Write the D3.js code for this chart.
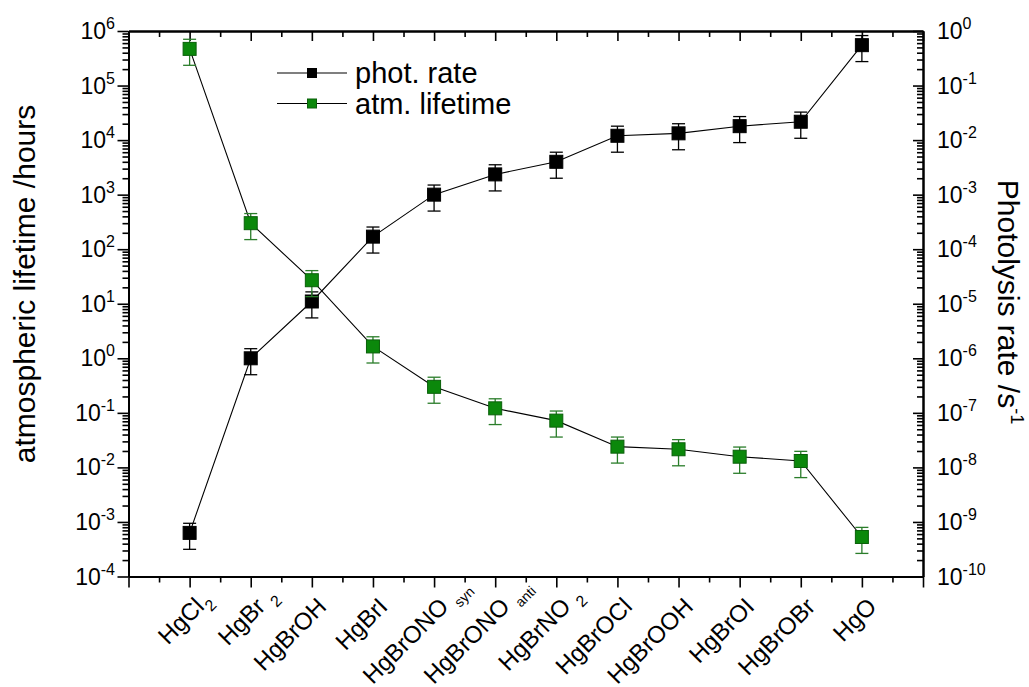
<!DOCTYPE html>
<html>
<head>
<meta charset="utf-8">
<script src="https://cdn.jsdelivr.net/npm/d3@7"></script>
<style>
  html, body { margin: 0; padding: 0; background: #fff; }
  svg { display: block; font-family: "Liberation Sans", Arial, Helvetica, sans-serif; }
</style>
</head>
<body>
<svg id="chart" width="1029" height="687"></svg>
<script>
// Mercury species along the x axis (main formula + subscript part)
const labelMain = ["HgCl", "HgBr", "HgBrOH", "HgBrI", "HgBrONO", "HgBrONO", "HgBrNO", "HgBrOCl", "HgBrOOH", "HgBrOI", "HgBrOBr", "HgO"];
const labelSub  = ["2", "2", "", "", "syn", "anti", "2", "", "", "", "", ""];

// Photolysis rate, s^-1 (right axis)
const photRate    = [6.3e-10, 1.0e-6, 1.1e-5, 1.7e-4, 1.0e-3, 2.35e-3, 4.0e-3, 1.2e-2, 1.33e-2, 1.8e-2, 2.17e-2, 0.55];
const photRateErr = [3.15e-10, 5.0e-7, 5.5e-6, 8.5e-5, 5.0e-4, 1.18e-3, 2.0e-3, 6.0e-3, 6.65e-3, 9.0e-3, 1.09e-2, 0.275];

// Atmospheric lifetime, hours (left axis)
const lifetime    = [4.7e5, 300, 27, 1.65, 0.30, 0.121, 0.072, 0.024, 0.0215, 0.0157, 0.0131, 5.3e-4];
const lifetimeErr = [2.35e5, 150, 13.5, 0.83, 0.15, 0.06, 0.036, 0.012, 0.0108, 0.0079, 0.0066, 2.65e-4];

// Axis decades
const leftExponents  = [-4, -3, -2, -1, 0, 1, 2, 3, 4, 5, 6];
const rightExponents = [-10, -9, -8, -7, -6, -5, -4, -3, -2, -1, 0];

const svg = d3.select("#chart");
const L = 128.5, R = 923, T = 31, B = 576.5;
const green = "#0b880b", greenDark = "#0a600a", greenBar = "#2a7d2a";

const x  = d3.scaleLinear().domain([-1, labelMain.length]).range([L, R]);
const yL = d3.scaleLog().domain([1e-4, 1e6]).range([B, T]);
const yR = d3.scaleLog().domain([1e-10, 1]).range([B, T]);

// tick values
const xMajor = d3.range(-1, labelMain.length + 1);
const xMinor = d3.range(-0.5, labelMain.length, 1);
const majorsOf = exps => exps.map(e => Math.pow(10, e));
const minorsOf = exps => exps.slice(0, -1).flatMap(e => d3.range(2, 10).map(k => k * Math.pow(10, e)));
const yLMajor = majorsOf(leftExponents), yLMinor = minorsOf(leftExponents);
const yRMajor = majorsOf(rightExponents), yRMinor = minorsOf(rightExponents);

function styleAxis(g) {
  g.select(".domain").attr("stroke", "#000").attr("stroke-width", 2);
  g.selectAll(".tick line").attr("stroke", "#000").attr("stroke-width", 1.6);
  g.selectAll(".tick text").remove();
}
function addAxis(axisFn, scale, values, size, tx, ty) {
  svg.append("g").attr("transform", `translate(${tx},${ty})`)
    .call(axisFn(scale).tickValues(values).tickSize(size).tickSizeOuter(0).tickFormat(""))
    .call(styleAxis);
}
// bottom (outward), top (inward)
addAxis(d3.axisBottom, x, xMinor, 6, 0, B);
addAxis(d3.axisBottom, x, xMajor, 11, 0, B);
addAxis(d3.axisBottom, x, xMinor, 6, 0, T);
addAxis(d3.axisBottom, x, xMajor, 10, 0, T);
// left (outward), right (inward)
addAxis(d3.axisLeft, yL, yLMinor, 6, L, 0);
addAxis(d3.axisLeft, yL, yLMajor, 11, L, 0);
addAxis(d3.axisLeft, yR, yRMinor, 6, R, 0);
addAxis(d3.axisLeft, yR, yRMajor, 10, R, 0);

// power-of-ten labels
function powLabel(g, xPos, yPos, exp, anchor) {
  const t = g.append("text").attr("x", xPos).attr("y", yPos)
    .attr("text-anchor", anchor).attr("font-size", 23).attr("fill", "#000");
  t.append("tspan").text("10");
  t.append("tspan").attr("dy", -10).attr("font-size", 16).text(exp);
}
const gl = svg.append("g");
leftExponents.forEach(e => powLabel(gl, 115, yL(Math.pow(10, e)) + 8, e, "end"));
rightExponents.forEach(e => powLabel(gl, 937, yR(Math.pow(10, e)) + 8, e, "start"));

// slanted category labels: formula ends just right of its tick, subscript trails it
labelMain.forEach((m, i) => {
  const ax = x(i) + 16, ay = 608;
  const rot = `translate(${ax},${ay}) rotate(-45)`;
  svg.append("text").attr("transform", rot)
    .attr("text-anchor", "end").attr("font-size", 24).attr("fill", "#000").text(m);
  if (labelSub[i]) {
    svg.append("text").attr("transform", rot)
      .attr("x", i === 0 ? 1 : 7).attr("y", 7)
      .attr("font-size", labelSub[i].length > 1 ? 14 : 16).attr("fill", "#000").text(labelSub[i]);
  }
});

// axis titles
svg.append("text").attr("transform", "translate(35,284) rotate(-90)")
  .attr("text-anchor", "middle").attr("font-size", 30).attr("fill", "#000")
  .text("atmospheric lifetime /hours");
const rt = svg.append("text").attr("transform", "translate(998,302) rotate(90)")
  .attr("text-anchor", "middle").attr("font-size", 30).attr("fill", "#000");
rt.append("tspan").text("Photolysis rate /s");
rt.append("tspan").attr("dy", -13).attr("font-size", 18).text("-1");

// series
const idx = d3.range(labelMain.length);
function drawSeries(values, errs, y, fill, stroke, barColor) {
  const g = svg.append("g");
  g.append("path").datum(idx)
    .attr("fill", "none").attr("stroke", "#000").attr("stroke-width", 1.1)
    .attr("d", d3.line().x(i => x(i)).y(i => y(values[i])));
  const eb = g.append("g").attr("stroke", barColor).attr("stroke-width", 1.3);
  idx.forEach(i => {
    const cx = x(i), hi = y(values[i] + errs[i]), lo = y(values[i] - errs[i]);
    eb.append("line").attr("x1", cx).attr("x2", cx).attr("y1", hi).attr("y2", lo);
    eb.append("line").attr("x1", cx - 6.5).attr("x2", cx + 6.5).attr("y1", hi).attr("y2", hi);
    eb.append("line").attr("x1", cx - 6.5).attr("x2", cx + 6.5).attr("y1", lo).attr("y2", lo);
  });
  g.selectAll("rect").data(idx).join("rect")
    .attr("x", i => x(i) - 6.5).attr("y", i => y(values[i]) - 6.5)
    .attr("width", 13).attr("height", 13)
    .attr("fill", fill).attr("stroke", stroke).attr("stroke-width", 1);
}
drawSeries(photRate, photRateErr, yR, "#000", "#000", "#000");
drawSeries(lifetime, lifetimeErr, yL, green, greenDark, greenBar);

// legend
const legend = [
  { name: "phot. rate", fill: "#000", stroke: "#000" },
  { name: "atm. lifetime", fill: green, stroke: greenDark }
];
legend.forEach((d, k) => {
  const cy = 73 + k * 30.5;
  const g = svg.append("g");
  g.append("line").attr("x1", 277).attr("x2", 347).attr("y1", cy).attr("y2", cy)
    .attr("stroke", "#000").attr("stroke-width", 1.1);
  g.append("rect").attr("x", 312 - 4.5).attr("y", cy - 4.5).attr("width", 9).attr("height", 9)
    .attr("fill", d.fill).attr("stroke", d.stroke);
  g.append("text").attr("x", 355).attr("y", cy + 10).attr("font-size", 29).attr("fill", "#000").text(d.name);
});
</script>
</body>
</html>
